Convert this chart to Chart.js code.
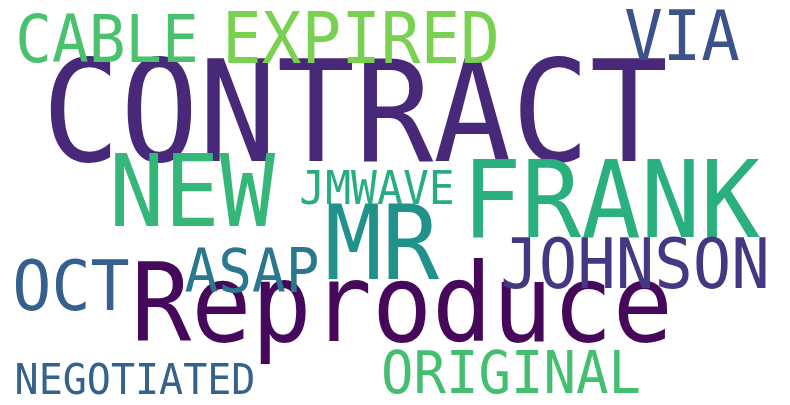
<!DOCTYPE html>
<html>
<head>
<meta charset="utf-8">
<script src="https://cdn.jsdelivr.net/npm/chart.js@4"></script>
<style>
  html, body { margin: 0; padding: 0; background: #fff; }
  #wrap { width: 790px; height: 405px; }
</style>
</head>
<body>
<div id="wrap"><canvas id="cloud"></canvas></div>
<script>
// word cloud: each word, its weight (font size) and where the layout placed it
const words = ['CONTRACT', 'Reproduce', 'FRANK', 'NEW', 'MR', 'JOHNSON', 'EXPIRED', 'CABLE', 'VIA', 'OCT', 'ASAP', 'JMWAVE', 'ORIGINAL', 'NEGOTIATED'];
const weights = [130, 100, 99, 92, 95, 64, 66, 61, 64, 65, 56, 43, 54, 40];
const xs = [355, 402, 611, 192, 382, 635, 361, 107, 682, 71, 252, 377, 511, 135];
const ys = [110, 302, 198, 190, 242, 263, 37, 38, 35, 284, 270, 187, 372, 378];
const colors = ['#482878', '#45085b', '#2ab07f', '#35b779', '#21918c', '#453781', '#7ad151', '#4ac16d', '#3b528b', '#35608d', '#2a788e', '#27ad81', '#44bf70', '#33638d'];

const wordPlugin = {
  id: 'words',
  afterDatasetsDraw(chart) {
    const ctx = chart.ctx;
    const xs_ = chart.scales.x, ys_ = chart.scales.y;
    words.forEach((w, i) => {
      const size = weights[i];
      const px = xs_.getPixelForValue(xs[i]);
      const py = ys_.getPixelForValue(ys[i]);
      ctx.save();
      // the original font is a touch taller than DejaVu Sans Mono
      ctx.translate(px, py);
      ctx.scale(1, 1.08);
      ctx.textAlign = 'center';
      ctx.textBaseline = 'alphabetic';
      ctx.font = `${size}px "DejaVu Sans Mono"`;
      ctx.fillStyle = colors[i];
      ctx.fillText(w, 0, size * 0.365);
      ctx.restore();
    });
  }
};

new Chart(document.getElementById('cloud'), {
  type: 'scatter',
  data: {
    datasets: [{
      data: words.map((w, i) => ({ x: xs[i], y: ys[i] })),
      pointRadius: 0
    }]
  },
  options: {
    responsive: true,
    maintainAspectRatio: false,
    animation: false,
    layout: { padding: 0 },
    plugins: { legend: { display: false }, tooltip: { enabled: false } },
    scales: {
      x: { display: false, min: 0, max: 790 },
      y: { display: false, min: 0, max: 405, reverse: true }
    }
  },
  plugins: [wordPlugin]
});
</script>
</body>
</html>
